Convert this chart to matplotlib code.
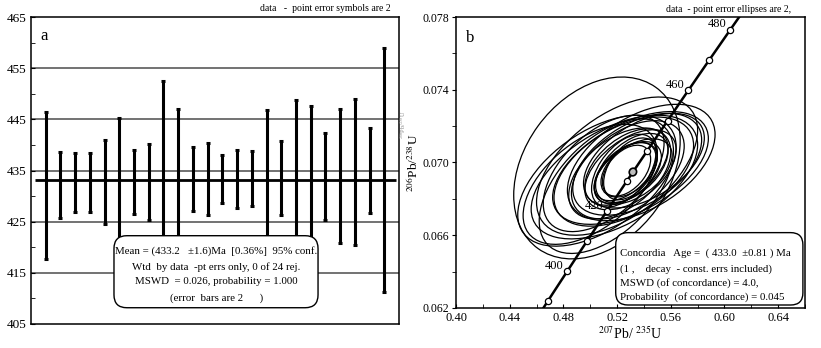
import numpy as np
import matplotlib
matplotlib.use("Agg")
import matplotlib.pyplot as plt
from matplotlib.patches import Ellipse, FancyBboxPatch

plt.rcParams["font.family"] = ["Liberation Serif", "DejaVu Serif"]
plt.rcParams["mathtext.fontset"] = "stix"

# panel a: 206Pb/238U spot ages (Ma) with 2-sigma errors
spot_age = [432.1, 432.2, 432.65, 432.65, 432.75, 432.7, 432.75, 432.8,
            433.0, 433.1, 433.3, 433.4, 433.3, 433.4, 433.45, 433.5,
            433.55, 433.6, 433.7, 433.85, 433.9, 434.7, 435.0, 435.15]
spot_err = [14.3, 6.4, 5.75, 5.85, 8.25, 12.6, 6.25, 7.4,
            19.5, 13.9, 6.2, 7.0, 4.7, 5.7, 5.35, 13.4,
            7.25, 15.2, 14.0, 8.55, 13.1, 14.3, 8.4, 23.85]
mean_age = 433.2
age_ticks = [405, 415, 425, 435, 445, 455, 465]

# panel b: 207Pb/235U vs 206Pb/238U error ellipses (2-sigma half extents)
ell_x = [0.505, 0.520, 0.505, 0.538, 0.530, 0.512, 0.525, 0.518,
         0.535, 0.510, 0.528, 0.540, 0.500, 0.522,
         0.527, 0.529, 0.526, 0.530, 0.528, 0.531, 0.525, 0.532, 0.527, 0.530]
ell_y = [0.06970, 0.06980, 0.06900, 0.07000, 0.06970, 0.06870, 0.06950, 0.06920,
         0.06990, 0.06940, 0.06960, 0.07010, 0.06880, 0.06940,
         0.06955, 0.06960, 0.06950, 0.06965, 0.06945, 0.06970, 0.06955, 0.06950,
         0.06975, 0.06960]
ell_sx = [0.062, 0.060, 0.059, 0.055, 0.058, 0.050, 0.052, 0.062,
          0.048, 0.045, 0.042, 0.045, 0.050, 0.038,
          0.018, 0.021, 0.023, 0.020, 0.025, 0.027, 0.024, 0.029, 0.031, 0.034]
ell_sy = [0.0050, 0.0038, 0.0036, 0.0032, 0.0031, 0.0037, 0.0030, 0.0034,
          0.0028, 0.0032, 0.0027, 0.0026, 0.0033, 0.0025,
          0.0014, 0.0015, 0.0016, 0.0017, 0.0017, 0.0019, 0.0020, 0.0018,
          0.0021, 0.0022]
ell_rho = [0.30, 0.52, 0.52, 0.48, 0.52, 0.52, 0.48, 0.52,
           0.48, 0.52, 0.48, 0.48, 0.52, 0.48,
           0.45, 0.45, 0.50, 0.45, 0.50, 0.50, 0.50, 0.50, 0.50, 0.50]

marker_ages = [390, 400, 410, 420, 430, 440, 450, 460, 470, 480]
labelled_ages = [400, 420, 460, 480]
concordia_age = 433.0
ratio_xticks = [0.40, 0.44, 0.48, 0.52, 0.56, 0.60, 0.64]
ratio_yticks = [0.062, 0.066, 0.070, 0.074, 0.078]

LAM238 = 1.55125e-10
LAM235 = 9.8485e-10


def concordia(t_ma):
    t = np.asarray(t_ma, dtype=float) * 1e6
    return np.expm1(LAM235 * t), np.expm1(LAM238 * t)


def add_error_ellipse(ax, cx, cy, sx, sy, rho, **kw):
    cov = np.array([[sx * sx, rho * sx * sy], [rho * sx * sy, sy * sy]])
    vals, vecs = np.linalg.eigh(cov)
    angle = np.degrees(np.arctan2(vecs[1, 1], vecs[0, 1]))
    e = Ellipse((cx, cy), 2 * np.sqrt(vals[1]), 2 * np.sqrt(vals[0]),
                angle=angle, fill=False, **kw)
    ax.add_patch(e)
    return e


fig = plt.figure(figsize=(8.21, 3.48), dpi=100)
W, H = 821, 348

# ---------------- panel a ----------------
ax = fig.add_axes([31 / W, 1 - 324 / H, 368 / W, 307 / H])
xs = np.arange(1, len(spot_age) + 1)
for y in age_ticks[1:-1]:
    ax.axhline(y, color="#5a5a5a", lw=1.2, zorder=1)
ax.hlines(mean_age, 0.27, 24.8, color="black", lw=2.0, zorder=2)
ax.errorbar(xs, spot_age, yerr=spot_err, fmt="none", ecolor="black",
            elinewidth=2.2, capsize=1.6, capthick=2.2, zorder=3)
ax.set_xlim(0, 25)
ax.set_ylim(405, 465)
ax.set_xticks([])
ax.set_yticks(age_ticks)
ax.set_yticks([a + 5 for a in age_ticks[:-1]], minor=True)
ax.tick_params(axis="y", which="both", direction="in", length=3,
               labelsize=9.5, pad=3)
for s in ax.spines.values():
    s.set_linewidth(1.1)

ax.text(0.025, 0.965, "a", transform=ax.transAxes, fontsize=12,
        ha="left", va="top")
ax.text(0.978, 1.012, "data   -  point error symbols are 2",
        transform=ax.transAxes, fontsize=7, ha="right", va="bottom")

box_a = FancyBboxPatch((0.2255, 0.053), 0.5545, 0.2346,
                       boxstyle="round,pad=0,rounding_size=0.035",
                       mutation_aspect=368 / 307, transform=ax.transAxes,
                       facecolor="white", edgecolor="black", lw=1.0, zorder=5)
ax.add_patch(box_a)
lines_a = ["Mean = (433.2   \u00b11.6)Ma  [0.36%]  95% conf.",
           "Wtd  by data  -pt errs only, 0 of 24 rej.",
           "MSWD  = 0.026, probability = 1.000",
           "(error  bars are 2      )"]
for txt, yy in zip(lines_a, [0.238, 0.186, 0.137, 0.085]):
    ax.text(0.503, yy, txt, transform=ax.transAxes, fontsize=7.8,
            ha="center", va="center", zorder=6)

fig.text(403 / W, 1 - 125 / H, r"$^{206}$Pb/$^{238}$U", rotation=90,
         fontsize=4.5, color="#8a8a8a", ha="center", va="center")

# ---------------- panel b ----------------
bx = fig.add_axes([456 / W, 1 - 308 / H, 349 / W, 291 / H])
for cx, cy, sx, sy, r in zip(ell_x, ell_y, ell_sx, ell_sy, ell_rho):
    add_error_ellipse(bx, cx, cy, sx, sy, r, edgecolor="black", lw=0.9,
                      zorder=2)

t_curve = np.linspace(380, 495, 300)
cx_, cy_ = concordia(t_curve)
bx.plot(cx_, cy_, color="black", lw=1.8, zorder=3)
mx, my = concordia(marker_ages)
bx.plot(mx, my, "o", ms=4.5, mfc="white", mec="black", mew=0.9, zorder=4)
for age in labelled_ages:
    px, py = concordia(age)
    bx.annotate(str(age), (px, py), xytext=(-2.5, 4), textcoords="offset points",
                ha="right", va="center", fontsize=9, zorder=4)

ca_x, ca_y = concordia(concordia_age)
bx.add_patch(Ellipse((ca_x, ca_y), 0.0055, 0.00042, angle=0.3,
                     facecolor="#bdbdbd", edgecolor="black", lw=1.2, zorder=5))

bx.set_xlim(0.40, 0.66)
bx.set_ylim(0.062, 0.078)
bx.set_xticks(ratio_xticks)
bx.set_xticks([v + 0.02 for v in ratio_xticks], minor=True)
bx.set_yticks(ratio_yticks)
bx.set_yticks([v + 0.002 for v in ratio_yticks[:-1]], minor=True)
bx.set_xticklabels([f"{v:.2f}" for v in ratio_xticks])
bx.set_yticklabels([f"{v:.3f}" for v in ratio_yticks])
bx.tick_params(axis="x", which="both", direction="in", length=3,
               labelsize=9, pad=3)
bx.tick_params(axis="y", which="both", direction="out", length=3,
               labelsize=8.5, pad=2)
for s in bx.spines.values():
    s.set_linewidth(1.1)
bx.set_xlabel(r"$^{207}$Pb/ $^{235}$U", fontsize=10, labelpad=1)
bx.set_ylabel(r"$^{206}$Pb/$^{238}$U", fontsize=9.5)
bx.yaxis.set_label_coords(-0.1, 0.5)

bx.text(0.03, 0.955, "b", transform=bx.transAxes, fontsize=12,
        ha="left", va="top")
bx.text(0.96, 1.012, "data  - point error ellipses are 2,",
        transform=bx.transAxes, fontsize=7, ha="right", va="bottom")

box_b = FancyBboxPatch((0.4576, 0.0103), 0.5364, 0.2487,
                       boxstyle="round,pad=0,rounding_size=0.035",
                       mutation_aspect=349 / 291, transform=bx.transAxes,
                       facecolor="white", edgecolor="black", lw=1.0, zorder=6)
bx.add_patch(box_b)
lines_b = ["Concordia   Age =  ( 433.0  \u00b10.81 ) Ma",
           "(1 ,    decay  - const. errs included)",
           "MSWD (of concordance) = 4.0,",
           "Probability  (of concordance) = 0.045"]
for txt, yy in zip(lines_b, [0.190, 0.134, 0.087, 0.039]):
    bx.text(0.47, yy, txt, transform=bx.transAxes, fontsize=7.8,
            ha="left", va="center", zorder=7)

fig.savefig("out.png", dpi=100)
